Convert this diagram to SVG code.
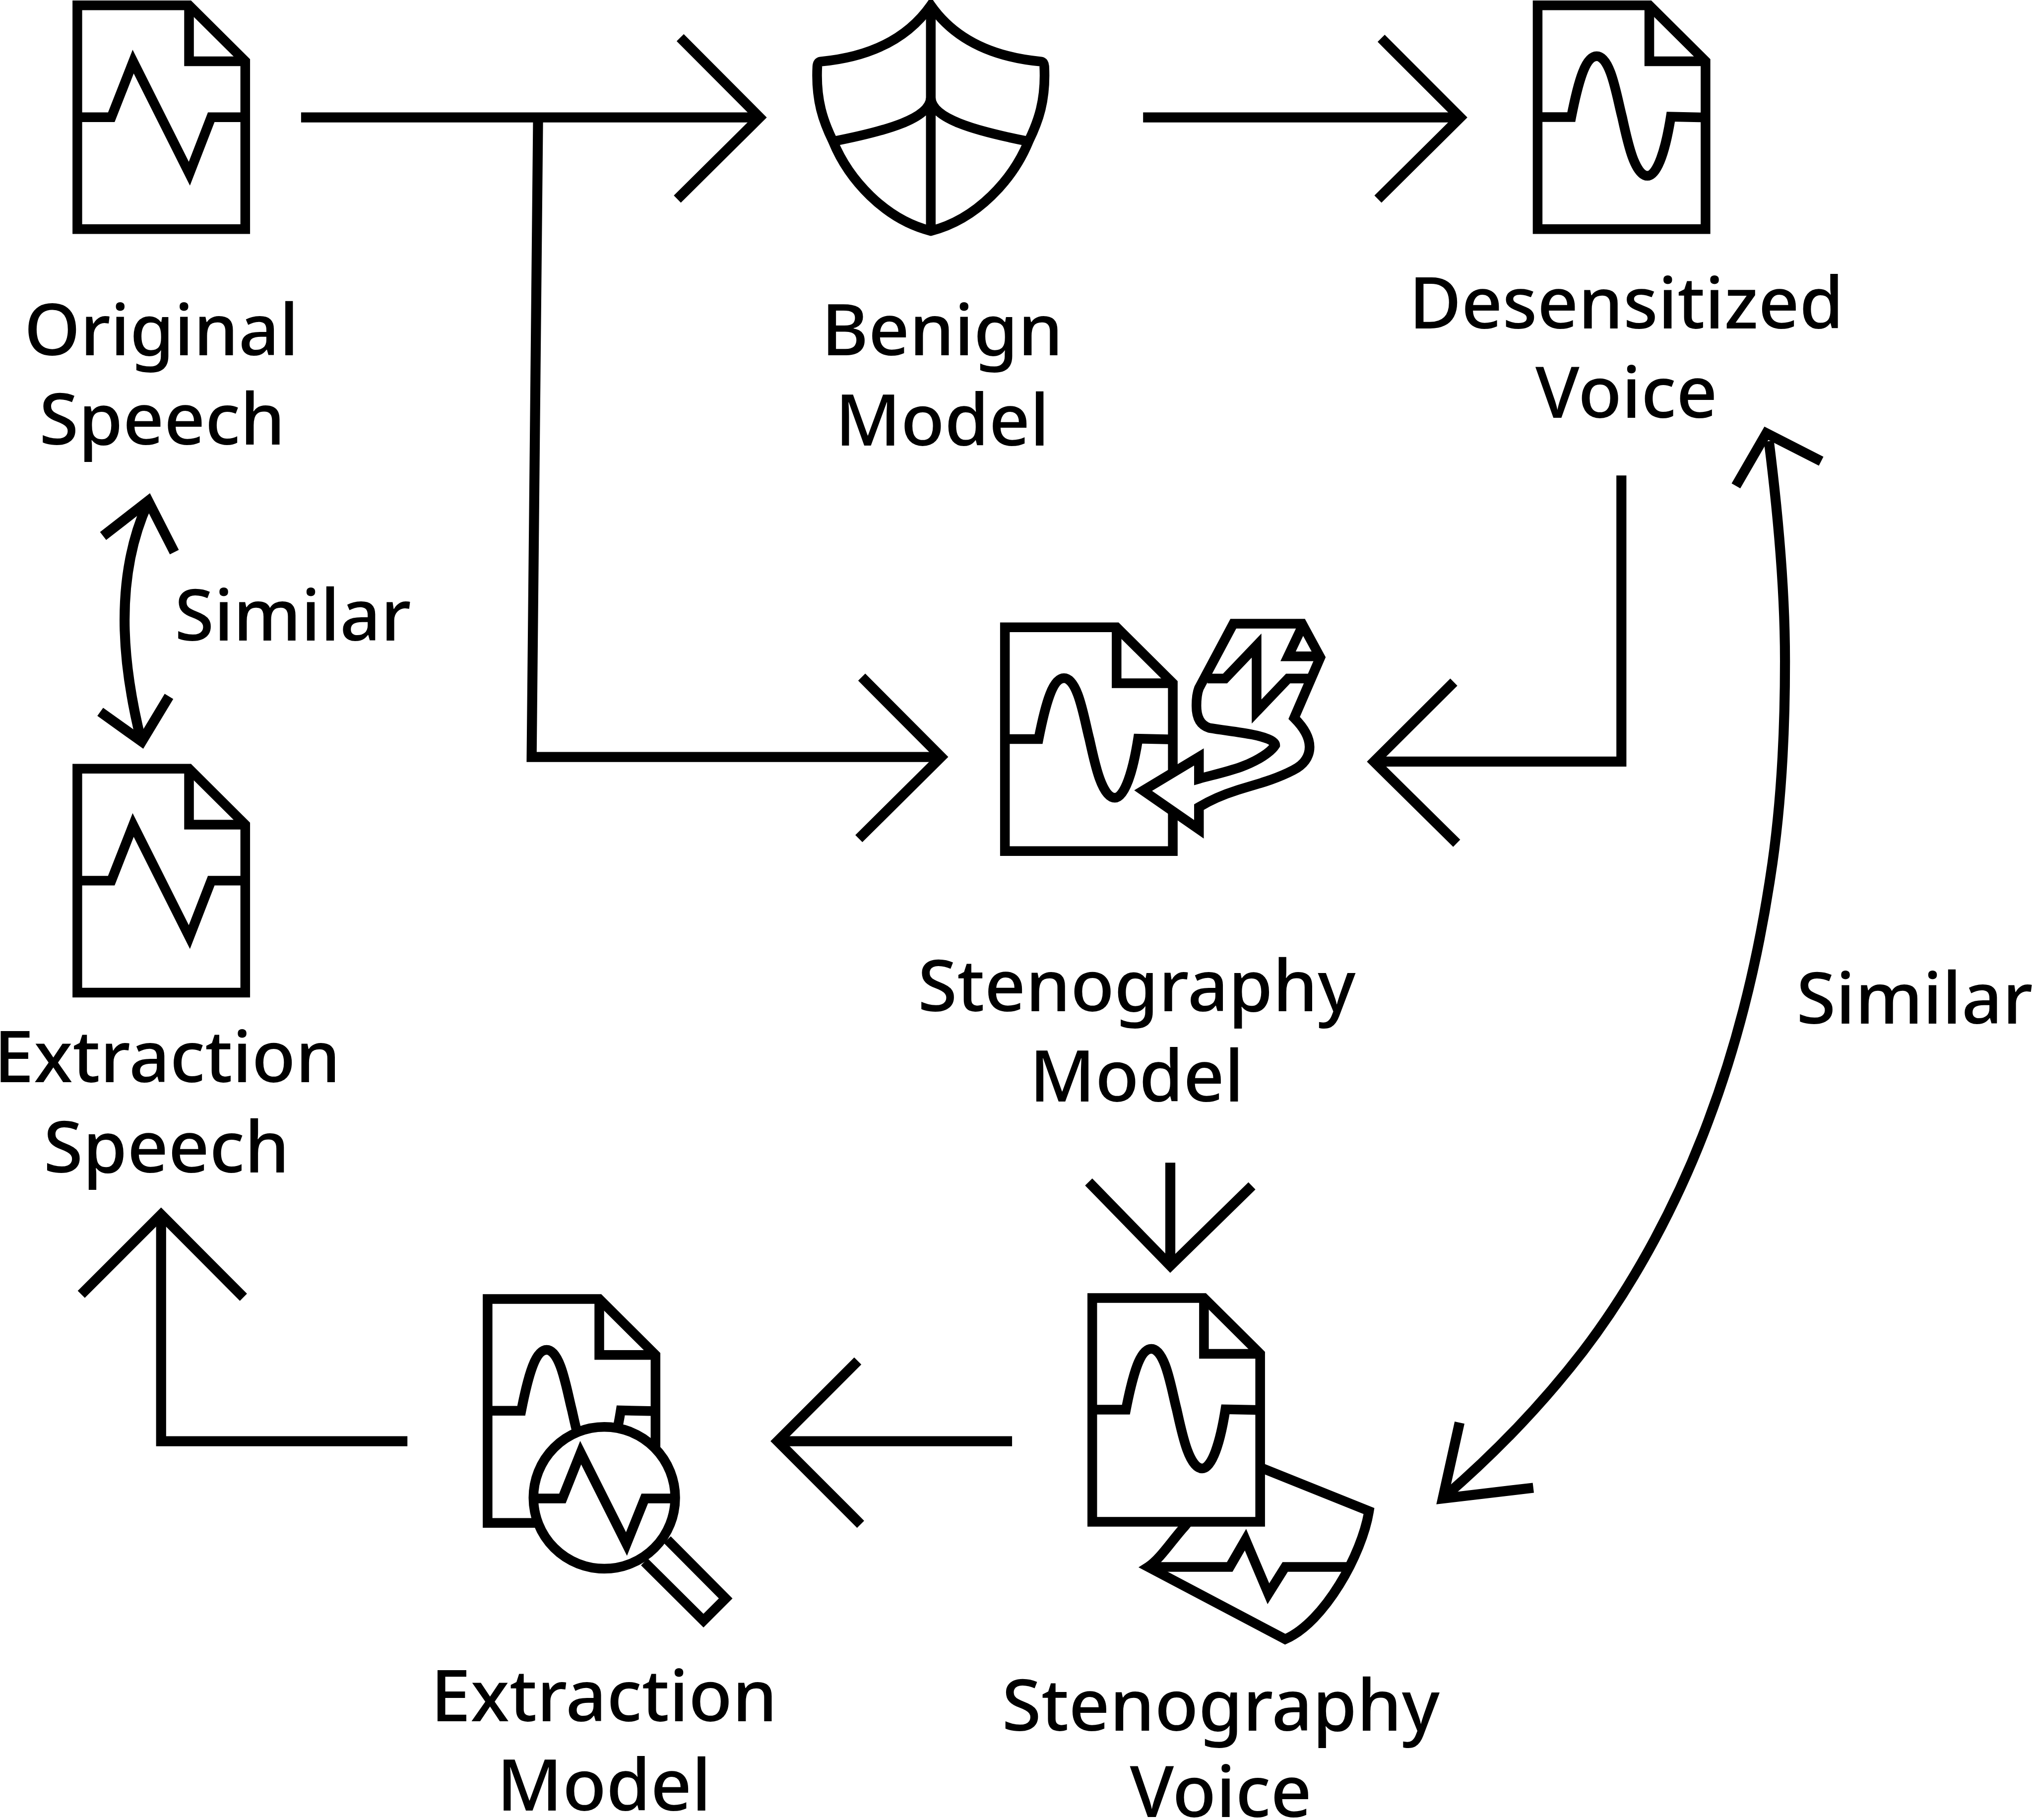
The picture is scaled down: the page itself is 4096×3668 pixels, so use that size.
<svg xmlns="http://www.w3.org/2000/svg" xmlns:xlink="http://www.w3.org/1999/xlink" width="4096" height="3668" viewBox="0 0 4096 3668">
<style>
.s{fill:none;stroke:#000;stroke-width:27;stroke-miterlimit:10;stroke-linejoin:miter}
.w{fill:#fff;stroke:#000;stroke-width:27;stroke-miterlimit:10;stroke-linejoin:miter}
.c{fill:none;stroke:#000;stroke-width:28;stroke-miterlimit:10;stroke-linejoin:miter}
text{font-family:"Noto Sans","Open Sans","DejaVu Sans",sans-serif;font-size:200px;font-weight:500;fill:#000;text-anchor:middle}
</style>
<defs>
<g id="page"><path class="w" d="M0,0H312L469,156V625H0Z"/><path class="s" d="M312,0V156H469"/></g>
<path id="zig" class="s" d="M0,312.500H95L156,157L313,470L374,312.500H469"/>
<path id="sine" class="s" d="M0,312H94C115,205 135,142 165,142C205,142 222,260 236,312C250,375 270,476 307,476C335,476 358,400 372,311L469,313"/>
</defs>
<rect width="4096" height="3668" fill="#fff"/>
<g transform="scale(0.72164)">
<g id="connectors">
<path class="c" d="M841,328H2122"/><path class="c" d="M1900,105L2122,328L1892,556"/>
<path class="c" d="M1503,328L1485,2114H2629"/><path class="c" d="M2407,1891L2629,2114L2399,2342"/>
<path class="c" d="M3193,328H4079"/><path class="c" d="M3858,107L4079,328L3849,556"/>
<path class="c" d="M4529,1328V2127H3838"/><path class="c" d="M4061,1905L3838,2127L4069,2355"/>
<path class="c" d="M413,1405C365,1510 348,1620 348,1731C348,1840 365,1950 394,2067"/>
<path class="c" d="M288,1497L414,1399L487,1542"/><path class="c" d="M280,1988L396,2071L472,1945"/>
<path class="c" d="M4941,1232C4966,1430 4986,1640 4986,1846C4986,2050 4975,2260 4945,2450C4910,2680 4855,2910 4772,3130C4690,3350 4570,3580 4421,3775C4305,3925 4180,4055 4034,4181"/>
<path class="c" d="M4849,1357L4934,1210L5087,1288"/><path class="c" d="M4077,3973L4030,4185L4283,4155"/>
<path class="c" d="M3269,3247V3535"/><path class="c" d="M3041,3301L3269,3535L3497,3312"/>
<path class="c" d="M2827,4025H2172"/><path class="c" d="M2396,3801L2172,4025L2404,4257"/>
<path class="c" d="M1138,4025H450V3392"/><path class="c" d="M227,3615L450,3392L680,3623"/>
</g>
<g id="original-speech">
<g transform="translate(216,15)"><use xlink:href="#page" href="#page"/><use xlink:href="#zig" href="#zig"/></g>
<text x="451" y="992">Original</text><text x="453" y="1242">Speech</text>
</g>
<g id="benign-model">
<path class="w" d="M2600,15C2530,115 2420,160 2292,172Q2284,173 2283,185C2278,280 2300,340 2327,395C2370,500 2470,612 2600,645C2730,612 2830,500 2873,395C2900,340 2922,280 2917,185Q2916,173 2908,172C2780,160 2670,115 2600,15Z" stroke-linejoin="round"/>
<path class="s" d="M2600,20V645M2327,395C2480,365 2600,330 2600,272C2600,330 2720,365 2873,395"/>
<text x="2632" y="992">Benign</text><text x="2632" y="1244">Model</text>
</g>
<g id="desensitized-voice">
<g transform="translate(4295,15)"><use xlink:href="#page" href="#page"/><use xlink:href="#sine" href="#sine"/></g>
<text x="4543" y="917">Desensitized</text><text x="4543" y="1167">Voice</text>
</g>
<g id="similar-left"><text x="818" y="1789">Similar</text></g>
<g id="extraction-speech">
<g transform="translate(216,2147)"><use xlink:href="#page" href="#page"/><use xlink:href="#zig" href="#zig"/></g>
<text x="467" y="3022">Extraction</text><text x="465" y="3274">Speech</text>
</g>
<g id="stenography-model">
<g transform="translate(2807,1752)"><use xlink:href="#page" href="#page"/><use xlink:href="#sine" href="#sine"/></g>
<path class="w" d="M3445,1742H3637L3688,1836L3615,2005C3645,2035 3658,2060 3658,2086C3658,2115 3640,2137 3612,2151C3560,2178 3510,2190 3458,2206C3420,2218 3385,2232 3349,2254V2316L3193,2208L3349,2114V2175C3385,2165 3430,2155 3466,2142C3515,2124 3550,2100 3562,2081C3562,2068 3530,2058 3500,2052C3460,2044 3420,2040 3378,2033C3350,2025 3342,2000 3342,1971C3342,1950 3344,1935 3349,1922Z"/>
<path class="s" d="M3635,1755L3598,1833H3688"/>
<path class="s" d="M3373,1895H3422L3510,1803V1987L3598,1895H3668"/>
<text x="3175" y="2824">Stenography</text><text x="3175" y="3077">Model</text>
</g>
<g id="stenography-voice">
<path class="w" d="M3207,4376C3240,4355 3275,4300 3309,4263L3400,4150L3450,4070L3824,4220C3805,4340 3700,4530 3590,4578Z"/>
<path class="s" d="M3207,4376H3435L3479,4300L3543,4451L3590,4376H3765"/>
<g transform="translate(3051,3625)"><use xlink:href="#page" href="#page"/><use xlink:href="#sine" href="#sine"/></g>
<text x="3410" y="4833">Stenography</text><text x="3410" y="5075">Voice</text>
</g>
<g id="extraction-model">
<g transform="translate(1362,3628)"><use xlink:href="#page" href="#page"/><use xlink:href="#sine" href="#sine"/></g>
<path class="w" d="M1864,4300L2027,4464L1965,4526L1800,4362"/>
<circle class="w" cx="1688" cy="4183" r="198"/>
<path class="s" d="M1490,4185H1571L1622,4057L1750,4312L1801,4185H1886"/>
<text x="1687" y="4807">Extraction</text><text x="1687" y="5057">Model</text>
</g>
<g id="similar-right"><text x="5348" y="2859">Similar</text></g>
</g>
</svg>
